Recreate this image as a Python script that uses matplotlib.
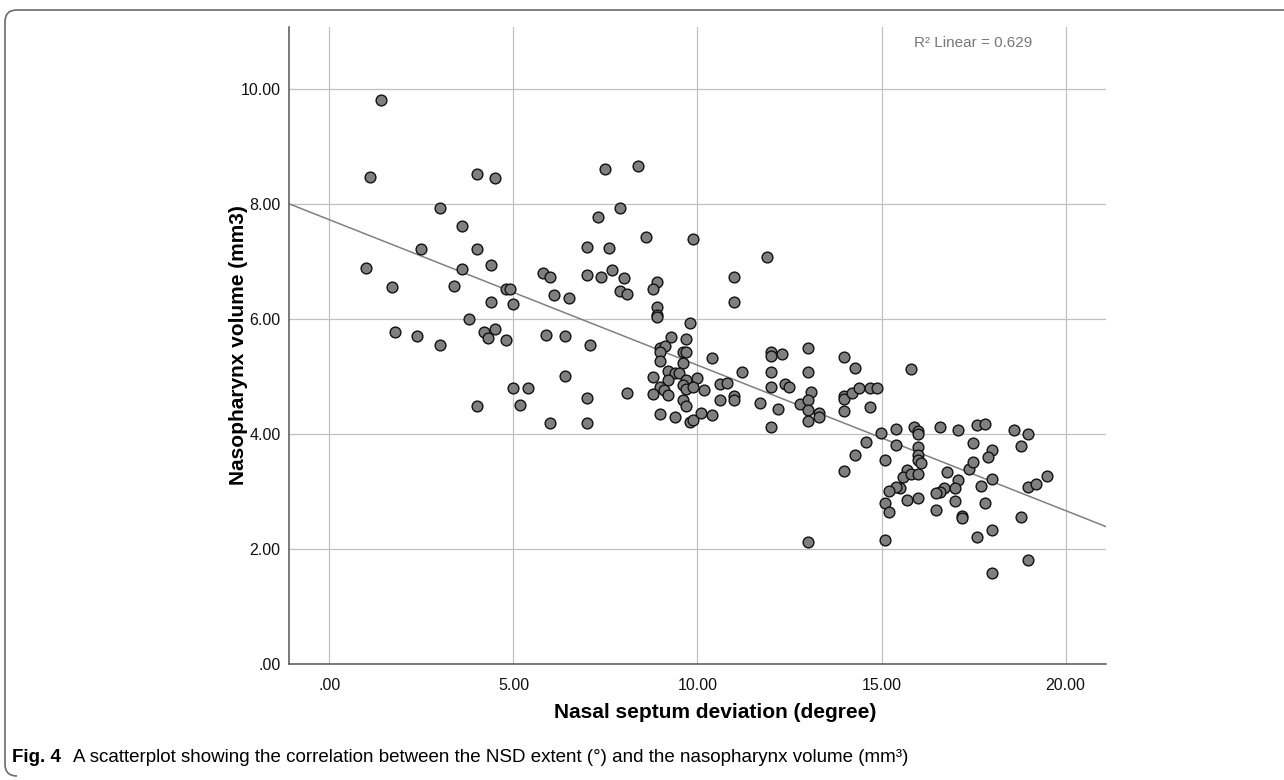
import numpy as np
import matplotlib
matplotlib.use("Agg")
import matplotlib.pyplot as plt
from matplotlib.path import Path
from matplotlib.patches import PathPatch

# values (x = NSD degrees, y = nasopharynx volume)
nsd_deg = [
    1.40, 1.09, 4.00, 4.50, 7.49, 8.39, 3.00, 3.59, 7.30, 7.89, 8.60, 9.89,
    2.50, 4.00, 7.00, 7.59, 1.00, 3.59, 4.40, 5.80, 6.00, 7.00, 7.39, 7.69,
    7.99, 8.90, 8.79, 1.70, 3.39, 4.79, 4.90, 4.40, 5.00, 6.09, 6.50, 7.89,
    8.09, 8.90, 8.89, 8.89, 9.80, 1.79, 2.39, 3.00, 3.79, 4.20, 4.30, 4.50,
    4.79, 5.89, 6.39, 7.09, 6.39,
    11.90, 10.99, 10.99,
    5.00, 5.39, 4.00, 5.19, 7.00, 6.00, 7.00,
    9.29, 9.70, 8.99, 9.11, 8.99, 9.60, 9.70, 10.39, 8.99, 9.60, 9.19, 9.39,
    9.50, 8.79, 9.19, 9.70, 9.99, 9.60, 9.70, 9.89, 8.99, 9.09, 9.19, 8.79,
    10.19, 10.60, 10.80, 8.09, 9.60, 9.70, 10.60, 10.99, 10.99, 11.20, 11.99, 11.99,
    12.30, 12.99, 11.99, 12.99, 11.99, 12.39, 12.49, 13.09, 11.69, 12.19, 12.79, 12.99,
    12.99, 13.29, 13.29, 12.99, 11.99, 8.99, 9.40, 9.79, 9.89, 10.09, 10.39,
    13.99, 14.29, 13.99, 13.99, 14.20, 14.39, 14.68, 14.89, 13.99, 14.70, 15.79, 14.99,
    15.40, 15.87, 15.98, 15.98, 16.59, 17.09, 17.59, 17.80, 18.59, 18.99, 14.59, 15.40,
    15.98, 17.49, 17.99, 17.89, 18.79, 14.29, 15.09, 15.98, 15.98, 16.08, 13.99, 15.69,
    15.59, 15.79, 15.98, 16.79, 17.39, 17.49, 17.09, 16.99, 16.69, 16.59, 16.49, 17.69,
    17.99, 18.99, 19.19, 19.50, 15.49, 15.40, 15.19, 15.09, 15.19, 15.69, 15.98, 16.99,
    16.49, 17.19, 17.19, 17.80, 18.79, 17.99, 17.59, 15.09, 12.99, 18.99, 17.99,
]
naso_vol = [
    9.80, 8.47, 8.51, 8.45, 8.61, 8.66, 7.92, 7.62, 7.76, 7.93, 7.42, 7.38,
    7.22, 7.21, 7.24, 7.23, 6.89, 6.87, 6.94, 6.79, 6.72, 6.76, 6.72, 6.84,
    6.70, 6.63, 6.52, 6.55, 6.57, 6.51, 6.52, 6.29, 6.26, 6.41, 6.36, 6.49,
    6.43, 6.21, 6.07, 6.03, 5.92, 5.77, 5.70, 5.55, 6.00, 5.77, 5.67, 5.83,
    5.63, 5.71, 5.70, 5.55, 5.01,
    7.07, 6.72, 6.29,
    4.79, 4.80, 4.48, 4.50, 4.62, 4.19, 4.19,
    5.69, 5.64, 5.50, 5.53, 5.42, 5.43, 5.42, 5.32, 5.27, 5.23, 5.10, 5.05,
    5.05, 4.98, 4.94, 4.94, 4.97, 4.85, 4.78, 4.82, 4.81, 4.76, 4.68, 4.69,
    4.77, 4.87, 4.88, 4.71, 4.59, 4.49, 4.59, 4.66, 4.59, 5.07, 5.43, 5.35,
    5.38, 5.50, 5.07, 5.08, 4.81, 4.87, 4.81, 4.72, 4.54, 4.43, 4.51, 4.59,
    4.42, 4.36, 4.30, 4.23, 4.12, 4.35, 4.29, 4.21, 4.24, 4.37, 4.33,
    5.34, 5.15, 4.65, 4.60, 4.71, 4.79, 4.79, 4.79, 4.40, 4.46, 5.12, 4.01,
    4.08, 4.11, 4.05, 3.99, 4.11, 4.06, 4.15, 4.17, 4.07, 3.99, 3.86, 3.80,
    3.77, 3.84, 3.72, 3.59, 3.79, 3.63, 3.54, 3.63, 3.55, 3.49, 3.36, 3.38,
    3.25, 3.30, 3.30, 3.33, 3.39, 3.51, 3.19, 3.05, 3.05, 2.99, 2.98, 3.09,
    3.21, 3.08, 3.13, 3.27, 3.06, 3.08, 3.00, 2.79, 2.65, 2.85, 2.88, 2.83,
    2.67, 2.57, 2.54, 2.80, 2.56, 2.33, 2.20, 2.16, 2.12, 1.81, 1.58,
]

# linear fit as drawn in the reference
fit_intercept = 7.72
fit_slope = -0.2527
r2_text = "R\u00b2 Linear = 0.629"

x_ticks = [0, 5, 10, 15, 20]
y_ticks = [0, 2, 4, 6, 8, 10]

W, H = 1284, 780
fig = plt.figure(figsize=(W / 100, H / 100), dpi=100)

# axes box in pixels: left 289, right 1106, top 27, bottom 664
ax = fig.add_axes([289 / W, 1 - 664 / H, (1106 - 289) / W, (664 - 27) / H])
ax.set_xlim(-1.1, 21.1)
ax.set_ylim(0, 11.07)

ax.grid(True, color="#c0c0c0", linewidth=0.9, zorder=0)
ax.set_axisbelow(True)
for s in ["top", "right"]:
    ax.spines[s].set_visible(False)
for s in ["left", "bottom"]:
    ax.spines[s].set_color("#555555")
    ax.spines[s].set_linewidth(1.1)

xl = np.array(ax.get_xlim())
ax.plot(xl, fit_intercept + fit_slope * xl, color="#808080", linewidth=1.1, zorder=2)

ax.scatter(nsd_deg, naso_vol, s=60, facecolor="#7f7f7f", edgecolor="#111111",
           linewidth=1.0, zorder=3, clip_on=False)

ax.set_xticks(x_ticks)
ax.set_xticklabels([f"{v:.2f}".lstrip("0") if v == 0 else f"{v:.2f}" for v in x_ticks])
ax.set_yticks(y_ticks)
ax.set_yticklabels([f"{v:.2f}".lstrip("0") if v == 0 else f"{v:.2f}" for v in y_ticks])
ax.tick_params(axis="both", length=0, labelsize=11.5, labelcolor="#111111",
               labelfontfamily="Liberation Sans")
ax.tick_params(axis="x", pad=10)
ax.tick_params(axis="y", pad=6)

# R² note, centred near x=973 px, y=43 px
ax.text((973 - 289) / (1106 - 289), (664 - 43) / (664 - 27), r2_text,
        transform=ax.transAxes, ha="center", va="center",
        fontsize=11, color="#777777", family="Liberation Sans")

fig.text(238 / W, 1 - 345 / H, "Nasopharynx volume (mm3)", rotation=90,
         ha="center", va="center", fontsize=15, fontweight="bold",
         family="Liberation Sans")
fig.text(715 / W, 1 - 712 / H, "Nasal septum deviation (degree)",
         ha="center", va="center", fontsize=15, fontweight="bold",
         family="Liberation Sans")

cap_fam = ["Liberation Sans Narrow", "Liberation Sans"]
t1 = fig.text(12 / W, 1 - 757 / H, "Fig. 4", ha="left", va="center",
              fontsize=13.5, fontweight="bold", family=cap_fam)
fig.canvas.draw()
bb = t1.get_window_extent()
fig.text((bb.x1 + 12) / W, 1 - 757 / H,
         "A scatterplot showing the correlation between the NSD extent (\u00b0) "
         "and the nasopharynx volume (mm\u00b3)",
         ha="left", va="center", fontsize=13.5, family=cap_fam)

# rounded frame of the journal figure (top and left edges)
r = 12
x0, y0, y1, x1 = 5, 10, 776, W + 5
verts = [(x1, y0), (x0 + r, y0), (x0, y0), (x0, y0 + r), (x0, y1 - r), (x0, y1), (x0 + r, y1)]
codes = [Path.MOVETO, Path.LINETO, Path.CURVE3, Path.CURVE3, Path.LINETO, Path.CURVE3, Path.CURVE3]
verts = [(vx / W, 1 - vy / H) for vx, vy in verts]
fig.patches.append(PathPatch(Path(verts, codes), transform=fig.transFigure,
                             fill=False, edgecolor="#6a6a6a", linewidth=1.2))

fig.savefig("out.png", dpi=100)
